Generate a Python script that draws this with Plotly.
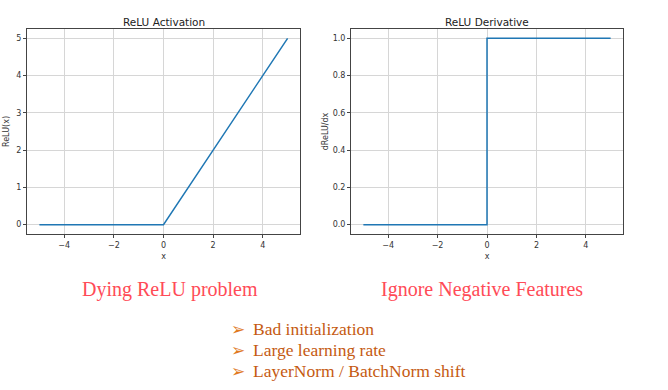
import plotly.graph_objects as go

# ---- data ----
relu_x = [-5, 0, 5]
relu_y = [0, 0, 5]
deriv_x = [-5, 0, 5]
deriv_y = [0, 1, 1]
x_ticks = [-4, -2, 0, 2, 4]
relu_ticks = [0, 1, 2, 3, 4, 5]
deriv_ticks = [0.0, 0.2, 0.4, 0.6, 0.8, 1.0]
titles = ["ReLU Activation", "ReLU Derivative"]
ylabels = ["ReLU(x)", "dReLU/dx"]
captions = ["Dying ReLU problem", "Ignore Negative Features"]
bullets = ["Bad initialization", "Large learning rate", "LayerNorm / BatchNorm shift"]

W, H = 668, 390
def px(x):
    return x / W
def py(y):
    return 1 - y / H

BLUE = "#1f77b4"
fig = go.Figure()
fig.add_trace(go.Scatter(x=relu_x, y=relu_y, mode="lines", line=dict(color=BLUE, width=1.5),
                         xaxis="x", yaxis="y", showlegend=False, hoverinfo="skip"))
fig.add_trace(go.Scatter(x=deriv_x, y=deriv_y, mode="lines", line=dict(color=BLUE, width=1.5, shape="hv"),
                         xaxis="x2", yaxis="y2", showlegend=False, hoverinfo="skip"))

tickfont = dict(family="DejaVu Sans", size=8, color="#333333")
labfont = dict(family="DejaVu Sans", size=8, color="#333333")
common = dict(showline=True, mirror=True, linecolor="#444444", linewidth=1,
              showgrid=True, gridcolor="#d6d6d6", gridwidth=1, zeroline=False,
              ticks="outside", ticklen=3, tickcolor="#444444", tickfont=tickfont)

fig.update_layout(
    width=W, height=H, margin=dict(l=0, r=0, t=0, b=0),
    paper_bgcolor="white", plot_bgcolor="white",
    xaxis=dict(domain=[px(27), px(300)], range=[-5.5, 5.5], tickvals=x_ticks, anchor="y",
               title=dict(text="x", font=labfont, standoff=4), **common),
    yaxis=dict(domain=[py(234), py(29)], range=[-0.25, 5.25], tickvals=relu_ticks, anchor="x",
               title=dict(text=ylabels[0], font=labfont, standoff=5), **common),
    xaxis2=dict(domain=[px(351), px(623)], range=[-5.5, 5.5], tickvals=x_ticks, anchor="y2",
                title=dict(text="x", font=labfont, standoff=4), **common),
    yaxis2=dict(domain=[py(234), py(29)], range=[-0.05, 1.05], tickvals=deriv_ticks, tickformat=".1f", anchor="x2",
                title=dict(text=ylabels[1], font=labfont, standoff=2), **common),
)

anns = []
for cx, t in zip([163.5, 487], titles):
    anns.append(dict(x=px(cx), y=py(22), xref="paper", yref="paper", text=t, showarrow=False,
                     xanchor="center", yanchor="middle",
                     font=dict(family="DejaVu Sans", size=10.5, color="#222222")))
for cx, t in zip([170, 482], captions):
    anns.append(dict(x=px(cx), y=py(289), xref="paper", yref="paper", text=t, showarrow=False,
                     xanchor="center", yanchor="middle",
                     font=dict(family="Liberation Serif", size=20, color="#ff4b57")))
for i, b in enumerate(bullets):
    yy = 329 + i * 21
    anns.append(dict(x=px(229), y=py(yy), xref="paper", yref="paper", text="➢", showarrow=False,
                     xanchor="left", yanchor="middle",
                     font=dict(family="DejaVu Sans", size=17, color="#e07a1f")))
    anns.append(dict(x=px(251), y=py(yy), xref="paper", yref="paper", text=b, showarrow=False,
                     xanchor="left", yanchor="middle",
                     font=dict(family="Liberation Serif", size=17.5, color="#c55a11")))
fig.update_layout(annotations=anns)

fig.write_html("out.html", config={"displayModeBar": False},
               post_script="document.body.style.margin='0';document.body.style.overflow='hidden';")
